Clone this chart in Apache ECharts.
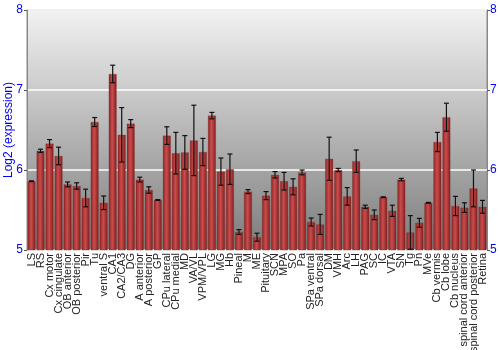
<!DOCTYPE html>
<html><head><meta charset="utf-8">
<script src="https://cdn.jsdelivr.net/npm/echarts@6/dist/echarts.min.js"></script>
<style>html,body{margin:0;padding:0;background:#fff}#c{width:500px;height:350px}</style>
</head><body><div id="c"></div>
<script>
const categories = ["LS","RS","Cx motor","Cx cingulate","OB anterior","OB posterior","Pir","Tu","ventral S","CA1","CA2/CA3","DG","A anterior","A posterior","GP","CPu lateral","CPu medial","MD","VA/VL","VPM/VPL","LG","MG","Hb","Pineal","M","ME","Pituitary","SCN","MPA","SO","Pa","SPa ventral","SPa dorsal","DM","VMH","Arc","LH","PAG","SC","IC","VTA","SN","Tg","Pn","MVe","Cb vermis","Cb lobe","Cb nucleus","spinal cord anterior","spinal cord posterior","Retina"];
const values = [5.86,6.24,6.33,6.175,5.82,5.80,5.65,6.60,5.59,7.20,6.44,6.58,5.88,5.75,5.625,6.43,6.21,6.22,6.37,6.225,6.68,5.98,6.01,5.225,5.73,5.16,5.68,5.94,5.86,5.79,5.97,5.35,5.32,6.14,6.00,5.67,6.11,5.54,5.44,5.66,5.49,5.88,5.22,5.34,5.59,6.35,6.66,5.55,5.53,5.77,5.54];
const errors = [0.005,0.02,0.05,0.11,0.03,0.04,0.11,0.056,0.085,0.11,0.34,0.05,0.03,0.04,0.005,0.11,0.26,0.21,0.44,0.17,0.04,0.17,0.19,0.03,0.025,0.05,0.05,0.04,0.11,0.10,0.03,0.05,0.125,0.27,0.02,0.11,0.14,0.02,0.06,0.005,0.07,0.015,0.21,0.055,0.005,0.12,0.175,0.12,0.06,0.23,0.08];
const yTicks = [5,6,7,8];

const chart = echarts.init(document.getElementById('c'), null, {renderer:'canvas'});
const errData = values.map((v,i)=>[i, v-errors[i], v+errors[i]]);
const font = 'Liberation Sans, Arial, sans-serif';
chart.setOption({
  animation:false,
  grid:{left:27,right:13,top:10,bottom:100,containLabel:false,outerBoundsMode:'none',show:true,borderColor:'#888',borderWidth:1,
    backgroundColor:{type:'linear',x:0,y:0,x2:0,y2:1,colorStops:[{offset:0,color:'#f2f2f2'},{offset:1,color:'#7c7c7c'}]}},
  xAxis:{type:'category',data:categories,axisTick:{show:false},axisLine:{show:false},
    axisLabel:{rotate:90,interval:0,fontSize:11,fontFamily:font,color:'#222',margin:3}},
  yAxis:[
    {type:'value',min:yTicks[0],max:yTicks[yTicks.length-1],interval:1,name:'Log2 (expression)',nameLocation:'middle',nameGap:12,nameMoveOverlap:false,
     nameTextStyle:{color:'#0000ff',fontSize:12,fontFamily:font},
     axisLine:{show:true,lineStyle:{color:'#888'}},axisTick:{show:true,length:3,lineStyle:{color:'#555'}},
     axisLabel:{color:'#0000ff',fontSize:12,fontFamily:font,margin:4},
     splitLine:{show:true,lineStyle:{color:'#ffffff',width:1.5}}},
    {type:'value',min:yTicks[0],max:yTicks[yTicks.length-1],interval:1,position:'right',
     axisLine:{show:true,lineStyle:{color:'#888'}},axisTick:{show:true,length:3,lineStyle:{color:'#555'}},
     axisLabel:{color:'#0000ff',fontSize:12,fontFamily:font,margin:3},splitLine:{show:false}}
  ],
  series:[
    {type:'bar',data:values,barCategoryGap:'12%',
     itemStyle:{borderColor:'rgba(120,30,30,0.5)',borderWidth:0.5,
       color:{type:'linear',x:0,y:0,x2:1,y2:0,colorStops:[{offset:0,color:'#8a2424'},{offset:0.45,color:'#cc4c4c'},{offset:1,color:'#7e1e1e'}]}}},
    {type:'custom',data:errData,z:10,
     renderItem:function(params,api){
       const x=api.value(0);
       const lo=api.coord([x,api.value(1)]);
       const hi=api.coord([x,api.value(2)]);
       const w=2.5;
       const st={stroke:'#111',lineWidth:1.2};
       return {type:'group',children:[
         {type:'line',shape:{x1:lo[0],y1:lo[1],x2:hi[0],y2:hi[1]},style:st},
         {type:'line',shape:{x1:lo[0]-w,y1:lo[1],x2:lo[0]+w,y2:lo[1]},style:st},
         {type:'line',shape:{x1:hi[0]-w,y1:hi[1],x2:hi[0]+w,y2:hi[1]},style:st}
       ]};
     }}
  ]
});
</script></body></html>
